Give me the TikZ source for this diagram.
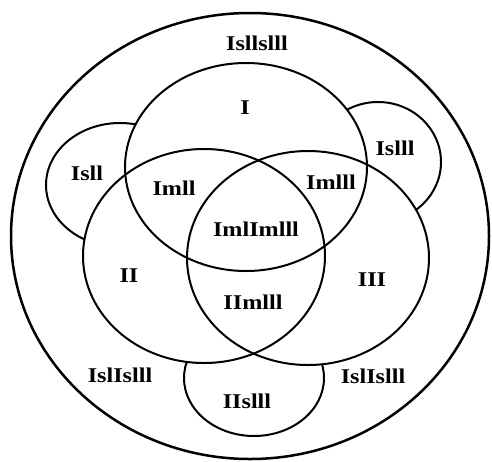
\documentclass[tikz,border=0pt]{standalone}
\usepackage{fontspec}
\newfontfamily\labfont[FakeStretch=1.15]{Liberation Serif}
\begin{document}
\begin{tikzpicture}[x=1pt,y=-1pt,
  ring/.style={line width=2pt},
  outer/.style={line width=2.5pt},
  lab/.style={font=\labfont\bfseries\fontsize{21}{25}\selectfont, inner sep=0pt}]
\useasboundingbox (0,0) rectangle (492,461);
% small outer lobes
\draw[ring] (120,185) ellipse [x radius=74, y radius=62];
\draw[ring] (378,162) ellipse [x radius=63, y radius=60];
\draw[ring] (254,378) ellipse [x radius=70, y radius=58];
% white fills of the three main sets
\fill[white] (246,167) ellipse [x radius=121, y radius=104];
\fill[white] (204,256) ellipse [x radius=121, y radius=107];
\fill[white] (308,258) ellipse [x radius=121, y radius=107];
% outlines
\draw[outer] (250,236) ellipse [x radius=239, y radius=223];
\draw[ring] (246,167) ellipse [x radius=121, y radius=104];
\draw[ring] (204,256) ellipse [x radius=121, y radius=107];
\draw[ring] (308,258) ellipse [x radius=121, y radius=107];
% labels
\node[lab] (t0) at (257,43) {Isllslll};
\node[lab] (t1) at (245,108) {I};
\node[lab] (t2) at (87,173) {Isll};
\node[lab] (t3) at (395,148) {Islll};
\node[lab] (t4) at (174,188) {Imll};
\node[lab] (t5) at (331,182) {Imlll};
\node[lab] (t6) at (256,229) {ImlImlll};
\node[lab] (t7) at (129,276) {II};
\node[lab] (t8) at (372,280) {III};
\node[lab] (t9) at (253,302) {IImlll};
\node[lab] (t10) at (120,375) {IslIslll};
\node[lab] (t11) at (247,401) {IIslll};
\node[lab] (t12) at (373,376) {IslIslll};
\end{tikzpicture}
\end{document}
